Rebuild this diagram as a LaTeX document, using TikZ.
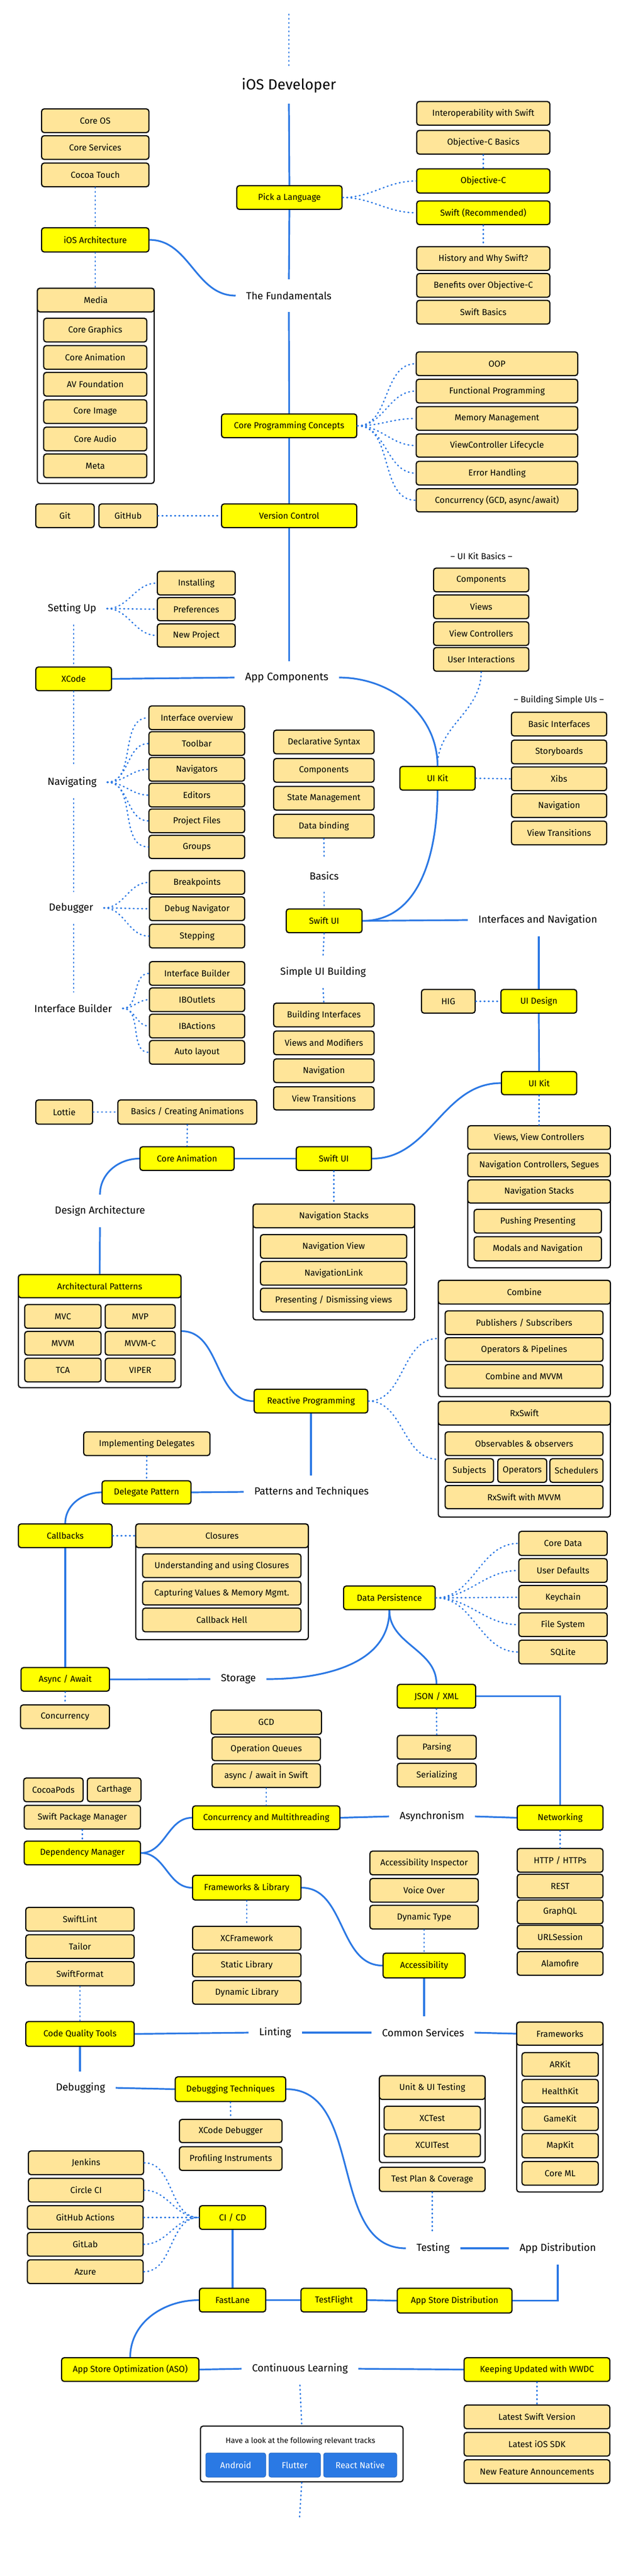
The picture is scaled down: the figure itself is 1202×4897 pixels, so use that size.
\documentclass[tikz,border=0pt]{standalone}
\usepackage{fontspec}
\setmainfont{Fira Sans}
\definecolor{yel}{HTML}{FFFF00}
\definecolor{lyel}{HTML}{FFE599}
\definecolor{lblue}{HTML}{2B78E4}
\definecolor{tblue}{HTML}{2A79E4}
\newcommand{\rbf}{\fontsize{16.5}{19}\selectfont}
\newcommand{\rlf}{\fontsize{19.5}{22}\selectfont}
\newcommand{\rtf}{\fontsize{14.5}{17}\selectfont}
\newcommand{\rsf}{\fontsize{16.5}{19}\selectfont}
\newcommand{\rhf}{\fontsize{28}{32}\selectfont}
\newcommand{\rbox}[7]{\node[#1, minimum width={(#4-#2)*1pt}, minimum height={(#5-#3)*1pt}] (#6) at ({(#2+#4)/2},{(#3+#5)/2}) {#7};}
\tikzset{
 box/.style={draw=black, line width=2.2pt, rounded corners=5pt, fill=lyel, inner sep=0pt, align=center, font=\rbf, text=black},
 ybox/.style={box, fill=yel},
 grp/.style={draw=black, line width=2.2pt, rounded corners=5pt, fill=white, inner sep=0pt},
 lbl/.style={inner xsep=20pt, inner ysep=0pt, minimum height=62pt, font=\rlf},
 sl/.style={draw=lblue, line width=3.2pt},
 dl/.style={draw=lblue, line width=2.6pt, dash pattern=on 1.5pt off 6.5pt, line cap=round},
 tbox/.style={fill=tblue, draw=tblue!85!black, line width=1pt, rounded corners=4pt, inner sep=0pt, text=white, font=\rsf},
}
\begin{document}
\begin{tikzpicture}[x=1pt,y=-1pt]
\fill[white] (0,0) rectangle (1202,4897);
\useasboundingbox (0,0) rectangle (1202,4897);

% ---------- top ----------
\coordinate (top1) at (549,27);
\node[lbl, font=\rhf, minimum height=68pt] (iosdev) at (549,163) {iOS Developer};
\rbox{box}{79}{207}{283}{252}{coreos}{Core OS}
\rbox{box}{79}{258}{283}{303}{coreserv}{Core Services}
\rbox{box}{79}{310}{283}{355}{cocoa}{Cocoa Touch}
\rbox{ybox}{79}{433}{283}{479}{iosarch}{iOS Architecture}
\rbox{grp}{71}{548}{293}{919}{mediag}{}
\rbox{box}{71}{548}{293}{593}{mediah}{Media}
\rbox{box}{83}{605}{279}{650}{coregraph}{Core Graphics}
\rbox{box}{83}{657}{279}{702}{coreanim1}{Core Animation}
\rbox{box}{83}{708}{279}{753}{avf}{AV Foundation}
\rbox{box}{83}{760}{279}{805}{coreimg}{Core Image}
\rbox{box}{83}{812}{279}{857}{coreaudio}{Core Audio}
\rbox{box}{83}{863}{279}{908}{meta}{Meta}

\rbox{box}{792}{193}{1045}{238}{interop}{Interoperability with Swift}
\rbox{box}{792}{248}{1045}{293}{objcb}{Objective-C Basics}
\rbox{ybox}{792}{321}{1045}{367}{objc}{Objective-C}
\rbox{ybox}{792}{382}{1045}{427}{swift}{Swift (Recommended)}
\rbox{ybox}{450}{353}{650}{398}{pick}{Pick a Language}
\rbox{box}{792}{469}{1045}{514}{history}{History and Why Swift?}
\rbox{box}{792}{520}{1045}{565}{benefits}{Benefits over Objective-C}
\rbox{box}{792}{571}{1045}{616}{swiftbasics}{Swift Basics}
\node[lbl] (fund) at (549,562) {The Fundamentals};

\rbox{ybox}{421}{787}{678}{832}{cpc}{Core Programming Concepts}
\rbox{box}{791}{669}{1098}{714}{oop}{OOP}
\rbox{box}{791}{721}{1098}{766}{fp}{Functional Programming}
\rbox{box}{791}{773}{1098}{818}{mm}{Memory Management}
\rbox{box}{791}{825}{1098}{869}{vcl}{ViewController Lifecycle}
\rbox{box}{791}{877}{1098}{922}{eh}{Error Handling}
\rbox{box}{791}{929}{1098}{973}{conc1}{Concurrency (GCD, async/await)}

\rbox{ybox}{421}{958}{678}{1003}{vc}{Version Control}
\rbox{box}{68}{958}{179}{1003}{git}{Git}
\rbox{box}{188}{958}{299}{1003}{github}{GitHub}

% ---------- app components ----------
\node[font=\rsf] (uikb) at (915,1057) {-- UI Kit Basics --};
\rbox{box}{824}{1080}{1005}{1125}{comp1}{Components}
\rbox{box}{824}{1131}{1005}{1176}{views}{Views}
\rbox{box}{824}{1182}{1005}{1227}{viewc}{View Controllers}
\rbox{box}{824}{1231}{1005}{1276}{useri}{User Interactions}

\node[lbl] (settingup) at (137,1157) {Setting Up};
\rbox{box}{299}{1086}{447}{1131}{installing}{Installing}
\rbox{box}{299}{1136}{447}{1180}{prefs}{Preferences}
\rbox{box}{299}{1186}{447}{1230}{newproj}{New Project}
\rbox{ybox}{68}{1268}{212}{1313}{xcode}{XCode}
\node[lbl, font=\fontsize{20.5}{23}\selectfont] (appcomp) at (545,1288) {App Components};
\rbox{ybox}{760}{1457}{903}{1502}{uikit1}{UI Kit}
\node[font=\rsf] (bsu) at (1062,1331) {-- Building Simple UIs --};
\rbox{box}{972}{1354}{1153}{1399}{basicint}{Basic Interfaces}
\rbox{box}{972}{1407}{1153}{1452}{storyb}{Storyboards}
\rbox{box}{972}{1458}{1153}{1503}{xibs}{Xibs}
\rbox{box}{972}{1509}{1153}{1554}{nav1}{Navigation}
\rbox{box}{972}{1561}{1153}{1606}{vt1}{View Transitions}

\node[lbl] (navigating) at (137,1487) {Navigating};
\rbox{box}{283}{1342}{465}{1387}{io}{Interface overview}
\rbox{box}{283}{1391}{465}{1436}{toolbar}{Toolbar}
\rbox{box}{283}{1440}{465}{1485}{navigators}{Navigators}
\rbox{box}{283}{1489}{465}{1534}{editors}{Editors}
\rbox{box}{283}{1538}{465}{1583}{projfiles}{Project Files}
\rbox{box}{283}{1588}{465}{1632}{groups}{Groups}

\rbox{box}{520}{1388}{711}{1433}{decl}{Declarative Syntax}
\rbox{box}{520}{1442}{711}{1487}{comp2}{Components}
\rbox{box}{520}{1495}{711}{1540}{state}{State Management}
\rbox{box}{520}{1548}{711}{1593}{databind}{Data binding}
\node[lbl] (basics) at (616,1665) {Basics};
\rbox{ybox}{544}{1728}{688}{1773}{swiftui1}{Swift UI}
\node[lbl] (ian) at (1022,1749) {Interfaces and Navigation};

\node[lbl] (debugger) at (135,1726) {Debugger};
\rbox{box}{284}{1655}{465}{1700}{bp}{Breakpoints}
\rbox{box}{284}{1705}{465}{1750}{dn}{Debug Navigator}
\rbox{box}{284}{1757}{465}{1802}{stepping}{Stepping}

\node[lbl] (ibl) at (139,1917) {Interface Builder};
\rbox{box}{284}{1828}{465}{1873}{ib}{Interface Builder}
\rbox{box}{284}{1878}{465}{1923}{iboutlets}{IBOutlets}
\rbox{box}{284}{1928}{465}{1973}{ibactions}{IBActions}
\rbox{box}{284}{1978}{465}{2023}{autolayout}{Auto layout}

\node[lbl] (sub) at (614,1848) {Simple UI Building};
\rbox{box}{520}{1907}{711}{1952}{buildint}{Building Interfaces}
\rbox{box}{520}{1960}{711}{2005}{vam}{Views and Modifiers}
\rbox{box}{520}{2013}{711}{2058}{nav2}{Navigation}
\rbox{box}{520}{2066}{711}{2110}{vt2}{View Transitions}

\rbox{box}{801}{1881}{903}{1926}{hig}{HIG}
\rbox{ybox}{952}{1881}{1096}{1926}{uidesign}{UI Design}
\rbox{ybox}{953}{2037}{1096}{2081}{uikit2}{UI Kit}
\rbox{box}{889}{2140}{1160}{2185}{vvc}{Views, View Controllers}
\rbox{box}{889}{2192}{1160}{2237}{ncs}{Navigation Controllers, Segues}
\rbox{grp}{889}{2243}{1160}{2410}{nsg}{}
\rbox{box}{889}{2243}{1160}{2287}{nsh}{Navigation Stacks}
\rbox{box}{901}{2299}{1143}{2344}{pushp}{Pushing Presenting}
\rbox{box}{901}{2351}{1143}{2397}{modals}{Modals and Navigation}

% ---------- design architecture ----------
\rbox{box}{68}{2091}{176}{2137}{lottie}{Lottie}
\rbox{box}{224}{2091}{488}{2137}{bca}{Basics / Creating Animations}
\rbox{ybox}{266}{2180}{445}{2225}{coreanim2}{Core Animation}
\rbox{ybox}{563}{2180}{706}{2225}{swiftui2}{Swift UI}
\node[lbl] (designarch) at (190,2302) {Design Architecture};
\rbox{grp}{481}{2289}{788}{2509}{nsg2}{}
\rbox{box}{481}{2289}{788}{2334}{nsh2}{Navigation Stacks}
\rbox{box}{495}{2347}{773}{2392}{navview}{Navigation View}
\rbox{box}{495}{2398}{773}{2443}{navlink}{NavigationLink}
\rbox{box}{495}{2449}{773}{2494}{presdis}{Presenting / Dismissing views}

\rbox{grp}{35}{2423}{344}{2638}{apg}{}
\rbox{ybox}{35}{2423}{344}{2467}{aph}{Architectural Patterns}
\rbox{box}{47}{2480}{192}{2525}{mvc}{MVC}
\rbox{box}{200}{2480}{333}{2525}{mvp}{MVP}
\rbox{box}{47}{2531}{192}{2576}{mvvm}{MVVM}
\rbox{box}{200}{2531}{333}{2576}{mvvmc}{MVVM-C}
\rbox{box}{47}{2582}{192}{2627}{tca}{TCA}
\rbox{box}{200}{2582}{333}{2627}{viper}{VIPER}

\rbox{ybox}{483}{2641}{699}{2686}{reactive}{Reactive Programming}
\rbox{grp}{833}{2434}{1160}{2655}{combg}{}
\rbox{box}{833}{2434}{1160}{2479}{combh}{Combine}
\rbox{box}{846}{2492}{1146}{2537}{pubsub}{Publishers / Subscribers}
\rbox{box}{846}{2543}{1146}{2588}{opp}{Operators \& Pipelines}
\rbox{box}{846}{2594}{1146}{2639}{cmvvm}{Combine and MVVM}
\rbox{grp}{833}{2664}{1160}{2884}{rxg}{}
\rbox{box}{833}{2664}{1160}{2709}{rxh}{RxSwift}
\rbox{box}{846}{2722}{1146}{2767}{obs}{Observables \& observers}
\rbox{box}{846}{2773}{938}{2818}{subjects}{Subjects}
\rbox{box}{946}{2773}{1039}{2818}{operators}{Operators}
\rbox{box}{1045}{2773}{1146}{2818}{schedulers}{Schedulers}
\rbox{box}{846}{2824}{1146}{2868}{rxmvvm}{RxSwift with MVVM}

% ---------- patterns ----------
\rbox{box}{159}{2722}{399}{2767}{impdel}{Implementing Delegates}
\rbox{ybox}{194}{2815}{363}{2859}{delpat}{Delegate Pattern}
\node[lbl] (pat) at (592,2836) {Patterns and Techniques};
\rbox{ybox}{35}{2897}{213}{2942}{callbacks}{Callbacks}
\rbox{grp}{258}{2897}{586}{3117}{closg}{}
\rbox{box}{258}{2897}{586}{2942}{closh}{Closures}
\rbox{box}{271}{2954}{572}{2999}{uuc}{Understanding and using Closures}
\rbox{box}{271}{3006}{572}{3051}{cvm}{Capturing Values \& Memory Mgmt.}
\rbox{box}{271}{3057}{572}{3102}{chell}{Callback Hell}
\rbox{ybox}{40}{3170}{208}{3215}{async}{Async / Await}
\rbox{box}{39}{3241}{208}{3286}{conc2}{Concurrency}
\node[lbl] (storage) at (453,3192) {Storage};

% ---------- storage ----------
\rbox{ybox}{653}{3015}{827}{3060}{dp}{Data Persistence}
\rbox{box}{986}{2911}{1154}{2957}{cored}{Core Data}
\rbox{box}{986}{2963}{1154}{3008}{userd}{User Defaults}
\rbox{box}{986}{3014}{1154}{3059}{keychain}{Keychain}
\rbox{box}{986}{3066}{1154}{3111}{filesys}{File System}
\rbox{box}{986}{3118}{1154}{3163}{sqlite}{SQLite}
\rbox{ybox}{755}{3202}{904}{3247}{json}{JSON / XML}
\rbox{box}{755}{3299}{905}{3344}{parsing}{Parsing}
\rbox{box}{755}{3352}{905}{3397}{serial}{Serializing}

% ---------- asynchronism ----------
\rbox{box}{401}{3251}{611}{3297}{gcd}{GCD}
\rbox{box}{403}{3302}{609}{3347}{opq}{Operation Queues}
\rbox{box}{403}{3353}{609}{3398}{aaw}{async / await in Swift}
\rbox{ybox}{366}{3433}{646}{3478}{cm}{Concurrency and Multithreading}
\node[lbl] (asyn) at (821,3453) {Asynchronism};
\rbox{ybox}{983}{3432}{1146}{3479}{networking}{Networking}
\rbox{box}{983}{3514}{1146}{3559}{http}{HTTP / HTTPs}
\rbox{box}{983}{3563}{1146}{3608}{rest}{REST}
\rbox{box}{983}{3612}{1146}{3657}{graphql}{GraphQL}
\rbox{box}{983}{3660}{1146}{3705}{urls}{URLSession}
\rbox{box}{983}{3710}{1146}{3755}{alamo}{Alamofire}

\rbox{box}{45}{3380}{158}{3425}{cocoapods}{CocoaPods}
\rbox{box}{166}{3380}{268}{3425}{carthage}{Carthage}
\rbox{box}{46}{3432}{267}{3477}{spm}{Swift Package Manager}
\rbox{ybox}{46}{3500}{267}{3545}{depm}{Dependency Manager}
\rbox{ybox}{366}{3565}{572}{3612}{fl}{Frameworks \& Library}
\rbox{box}{703}{3519}{909}{3564}{ai}{Accessibility Inspector}
\rbox{box}{703}{3571}{909}{3616}{vo}{Voice Over}
\rbox{box}{703}{3622}{909}{3667}{dt}{Dynamic Type}
\rbox{ybox}{728}{3713}{884}{3760}{acc}{Accessibility}
\rbox{box}{49}{3626}{255}{3671}{swiftlint}{SwiftLint}
\rbox{box}{49}{3678}{255}{3723}{tailor}{Tailor}
\rbox{box}{49}{3729}{255}{3775}{swiftformat}{SwiftFormat}
\rbox{box}{366}{3662}{572}{3707}{xcf}{XCFramework}
\rbox{box}{366}{3713}{572}{3758}{staticl}{Static Library}
\rbox{box}{366}{3765}{572}{3810}{dynl}{Dynamic Library}

% ---------- common services ----------
\rbox{ybox}{49}{3843}{255}{3890}{cqt}{Code Quality Tools}
\node[lbl] (linting) at (523,3864) {Linting};
\node[lbl] (cs) at (804,3864) {Common Services};
\rbox{grp}{982}{3844}{1146}{4167}{fwg}{}
\rbox{box}{982}{3844}{1146}{3888}{fwh}{Frameworks}
\rbox{box}{992}{3902}{1137}{3947}{arkit}{ARKit}
\rbox{box}{992}{3953}{1137}{3998}{healthkit}{HealthKit}
\rbox{box}{992}{4005}{1137}{4050}{gamekit}{GameKit}
\rbox{box}{992}{4056}{1137}{4102}{mapkit}{MapKit}
\rbox{box}{992}{4109}{1137}{4154}{coreml}{Core ML}
\node[lbl] (debugging) at (153,3969) {Debugging};
\rbox{ybox}{333}{3948}{543}{3995}{dtech}{Debugging Techniques}
\rbox{box}{341}{4029}{536}{4073}{xcdbg}{XCode Debugger}
\rbox{box}{341}{4081}{536}{4126}{profi}{Profiling Instruments}
\rbox{grp}{721}{3946}{922}{4111}{utg}{}
\rbox{box}{721}{3946}{922}{3991}{uth}{Unit \& UI Testing}
\rbox{box}{730}{4004}{913}{4049}{xctest}{XCTest}
\rbox{box}{730}{4056}{913}{4100}{xcuitest}{XCUITest}
\rbox{box}{721}{4120}{922}{4166}{tpc}{Test Plan \& Coverage}
\node[lbl] (testing) at (823,4274) {Testing};
\node[lbl] (appdist) at (1060,4274) {App Distribution};

% ---------- distribution ----------
\rbox{box}{54}{4089}{273}{4134}{jenkins}{Jenkins}
\rbox{box}{54}{4141}{273}{4186}{circleci}{Circle CI}
\rbox{box}{52}{4193}{272}{4238}{gha}{GitHub Actions}
\rbox{box}{52}{4244}{272}{4289}{gitlab}{GitLab}
\rbox{box}{52}{4296}{272}{4341}{azure}{Azure}
\rbox{ybox}{379}{4193}{505}{4238}{cicd}{CI / CD}
\rbox{ybox}{379}{4350}{505}{4395}{fastlane}{FastLane}
\rbox{ybox}{572}{4350}{697}{4395}{testflight}{TestFlight}
\rbox{ybox}{755}{4350}{973}{4397}{asd}{App Store Distribution}
\rbox{ybox}{117}{4482}{378}{4527}{aso}{App Store Optimization (ASO)}
\node[lbl] (cl) at (570,4503) {Continuous Learning};
\rbox{ybox}{882}{4482}{1159}{4527}{ku}{Keeping Updated with WWDC}
\rbox{box}{882}{4572}{1159}{4617}{lsv}{Latest Swift Version}
\rbox{box}{882}{4624}{1159}{4669}{lsdk}{Latest iOS SDK}
\rbox{box}{882}{4676}{1159}{4721}{nfa}{New Feature Announcements}
\rbox{grp}{381}{4612}{766}{4718}{tracks}{}
\node[font=\rtf] (trtext) at (571,4640) {Have a look at the following relevant tracks};
\rbox{tbox}{391}{4663}{505}{4709}{android}{Android}
\rbox{tbox}{511}{4663}{609}{4709}{flutter}{Flutter}
\rbox{tbox}{615}{4663}{754}{4709}{rn}{React Native}
\coordinate (bot) at (569,4790);

% ================= connectors =================
% dotted
\draw[dl] (top1) -- (iosdev.north);
\draw[dl] (cocoa.south) -- (iosarch.north);
\draw[dl] (iosarch.south) -- (iosarch.south |- mediah.north);
\draw[dl] (objcb.south) -- (objc.north);
\draw[dl] (swift.south) -- (history.north);
\draw[dl] (pick.east) to[out=0,in=180] (objc.west);
\draw[dl] (pick.east) to[out=0,in=180] (swift.west);
\foreach \t in {oop,fp,mm,vcl,eh,conc1} \draw[dl] (cpc.east) to[out=0,in=180] (\t.west);
\draw[dl] (github.east) -- (vc.west);
\foreach \t in {installing,prefs,newproj} \draw[dl] (settingup.east) to[out=0,in=180] (\t.west);
\draw[dl] (xcode.north |- settingup.south) -- (xcode.north);
\draw[dl] (xcode.south) -- (xcode.south |- navigating.north);
\draw[dl] (xcode.south |- navigating.south) -- (xcode.south |- debugger.north);
\draw[dl] (xcode.south |- debugger.south) -- (xcode.south |- ibl.north);
\foreach \t in {io,toolbar,navigators,editors,projfiles,groups} \draw[dl] (navigating.east) to[out=0,in=180] (\t.west);
\foreach \t in {bp,dn,stepping} \draw[dl] (debugger.east) to[out=0,in=180] (\t.west);
\foreach \t in {ib,iboutlets,ibactions,autolayout} \draw[dl] (ibl.east) to[out=0,in=180] (\t.west);
\draw[dl] (useri.south) to[out=-90,in=90] (uikit1.north);
\draw[dl] (uikit1.east) -- (xibs.west);
\draw[dl] (databind.south) -- (basics.north);
\draw[dl] (basics.south) -- (swiftui1.north);
\draw[dl] (swiftui1.south) -- (sub.north);
\draw[dl] (sub.south) -- (buildint.north);
\draw[dl] (hig.east) -- (uidesign.west);
\draw[dl] (uikit2.south) -- (vvc.north);
\draw[dl] (lottie.east) -- (bca.west);
\draw[dl] (bca.south) -- (coreanim2.north);
\draw[dl] (swiftui2.south) -- (nsh2.north);
\draw[dl] (reactive.east) to[out=0,in=180] (combg.west);
\draw[dl] (reactive.east) to[out=0,in=180] (rxg.west);
\draw[dl] (impdel.south) -- (delpat.north);
\draw[dl] (callbacks.east) -- (closh.west);
\draw[dl] (async.south) -- (conc2.north);
\foreach \t in {cored,userd,keychain,filesys,sqlite} \draw[dl] (dp.east) to[out=0,in=180] (\t.west);
\draw[dl] (json.south) -- (parsing.north);
\draw[dl] (aaw.south) -- (cm.north);
\draw[dl] (networking.south) -- (http.north);
\draw[dl] (spm.south) -- (depm.north);
\draw[dl] (fl.south) -- (xcf.north);
\draw[dl] (dt.south) -- (acc.north);
\draw[dl] (swiftformat.south) -- (cqt.north);
\draw[dl] (dtech.south) -- (xcdbg.north);
\draw[dl] (tpc.south) -- (tpc.south |- testing.north);
\foreach \t in {jenkins,circleci,gha,gitlab,azure} \draw[dl] (\t.east) to[out=0,in=180] (cicd.west);
\draw[dl] (ku.south) -- (lsv.north);
\draw[dl] (cl.south) -- (tracks.north);
\draw[dl] (tracks.south) -- (bot);

% solid
\draw[sl] (iosdev.south) -- (pick.north);
\draw[sl] (pick.south) -- (fund.north);
\draw[sl] (fund.south) -- (cpc.north);
\draw[sl] (cpc.south) -- (vc.north);
\draw[sl] (vc.south) -- (vc.south |- appcomp.north);
\draw[sl] (iosarch.east) to[out=0,in=180] (fund.west);
\draw[sl] (xcode.east) -- (appcomp.west);
\draw[sl] (appcomp.east) to[out=0,in=90] (uikit1.north);
\draw[sl] (uikit1.south) to[out=-90,in=0] (swiftui1.east);
\draw[sl] (swiftui1.east) -- (ian.west);
\draw[sl] (uidesign.north |- ian.south) -- (uidesign.north);
\draw[sl] (uidesign.south) -- (uikit2.north);
\draw[sl] (swiftui2.east) to[out=0,in=180] (uikit2.west);
\draw[sl] (coreanim2.east) -- (swiftui2.west);
\draw[sl] (coreanim2.west) to[out=180,in=90] (designarch.north);
\draw[sl] (designarch.south) -- (aph.north);
\draw[sl] (apg.east) to[out=0,in=180] (reactive.west);
\draw[sl] (reactive.south) -- (reactive.south |- pat.north);
\draw[sl] (delpat.east) -- (pat.west);
\draw[sl] (delpat.west) to[out=180,in=90] (callbacks.north);
\draw[sl] (callbacks.south) -- (async.north);
\draw[sl] (async.east) -- (storage.west);
\draw[sl] (storage.east) to[out=0,in=-90] (dp.south);
\draw[sl] (dp.south) to[out=-90,in=90] (json.north);
\draw[sl] (json.east) -| (networking.north);
\draw[sl] (cm.east) -- (asyn.west);
\draw[sl] (asyn.east) -- (networking.west);
\draw[sl] (depm.east) to[out=0,in=180] (cm.west);
\draw[sl] (depm.east) to[out=0,in=180] (fl.west);
\draw[sl] (fl.east) to[out=0,in=180] (acc.west);
\draw[sl] (acc.south) -- (acc.south |- cs.north);
\draw[sl] (cqt.east) -- (linting.west);
\draw[sl] (linting.east) -- (cs.west);
\draw[sl] (cs.east) -- (fwh.west);
\draw[sl] (cqt.south) -- (cqt.south |- debugging.north);
\draw[sl] (debugging.east) -- (dtech.west);
\draw[sl] (dtech.east) to[out=0,in=180] (testing.west);
\draw[sl] (testing.east) -- (appdist.west);
\draw[sl] (appdist.south) |- (asd.east);
\draw[sl] (cicd.south) -- (fastlane.north);
\draw[sl] (fastlane.east) -- (testflight.west);
\draw[sl] (testflight.east) -- (asd.west);
\draw[sl] (fastlane.west) to[out=180,in=90] (aso.north);
\draw[sl] (aso.east) -- (cl.west);
\draw[sl] (cl.east) -- (ku.west);
\end{tikzpicture}
\end{document}
